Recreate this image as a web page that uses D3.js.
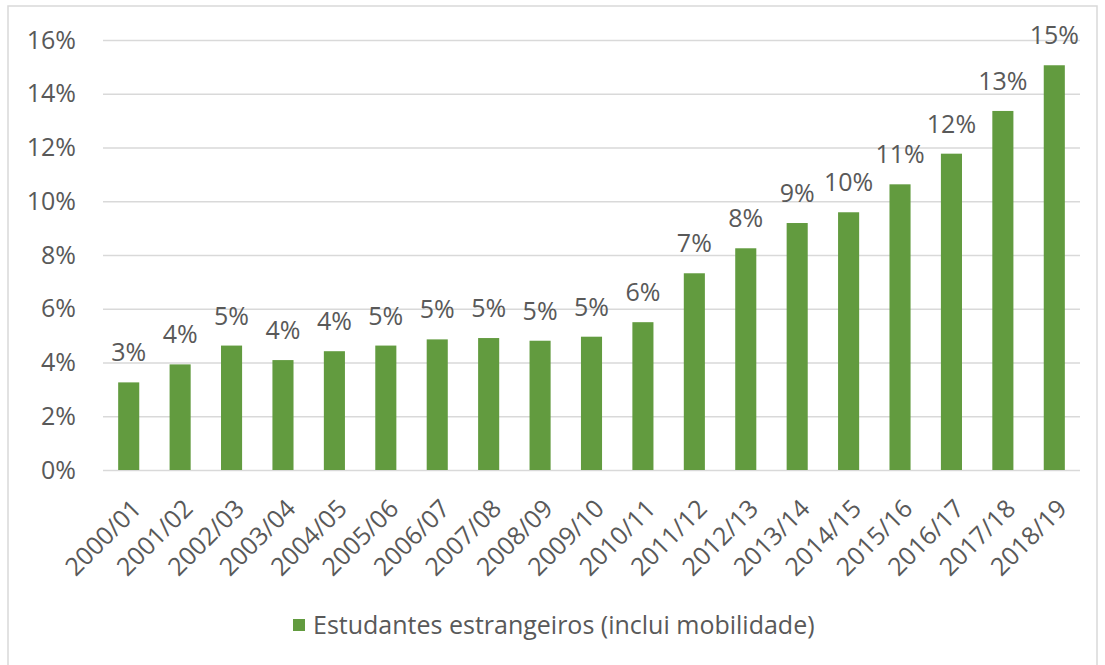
<!DOCTYPE html>
<html lang="pt">
<head>
<meta charset="UTF-8">
<title>Estudantes estrangeiros</title>
<script src="https://d3js.org/d3.v7.min.js"></script>
<style>
  body { margin: 0; background: #fff; font-family: "Open Sans", Arial, sans-serif; }
  svg text { fill: #595959; }
</style>
</head>
<body>
<svg width="1105" height="665"></svg>
<script>
const years = ["2000/01","2001/02","2002/03","2003/04","2004/05","2005/06","2006/07","2007/08","2008/09","2009/10",
               "2010/11","2011/12","2012/13","2013/14","2014/15","2015/16","2016/17","2017/18","2018/19"];
const shares = [3.26, 3.93, 4.63, 4.09, 4.42, 4.63, 4.86, 4.91, 4.81, 4.96,
                5.5, 7.32, 8.25, 9.19, 9.59, 10.63, 11.77, 13.36, 15.06];
const yTicks = [0, 2, 4, 6, 8, 10, 12, 14, 16];
const seriesName = "Estudantes estrangeiros (inclui mobilidade)";

const svg = d3.select("svg");
const green = "#629b3f";
const grid = "#d9d9d9";
const fs = 25;

// chart border
svg.append("rect").attr("x", 8).attr("y", 6).attr("width", 1089).attr("height", 670)
  .attr("fill", "none").attr("stroke", grid).attr("stroke-width", 1.5);

const x = d3.scaleBand().domain(years).range([103, 1080]).paddingInner(0.59).paddingOuter(0.295);
const y = d3.scaleLinear().domain([0, 16]).range([470, 40]);

// gridlines + y labels
const yAxis = svg.append("g").attr("transform", "translate(103,0)")
  .call(d3.axisLeft(y).tickValues(yTicks).tickSize(-977).tickPadding(27).tickFormat(d => d + "%"));
yAxis.select(".domain").remove();
yAxis.selectAll(".tick line").attr("stroke", grid).attr("stroke-width", 1.5);
yAxis.selectAll(".tick text").attr("font-size", fs).attr("font-family", "Open Sans").attr("fill", "#595959");

// bars
svg.selectAll(".bar").data(shares).join("rect")
  .attr("class", "bar")
  .attr("x", (d, i) => x(years[i]))
  .attr("width", x.bandwidth())
  .attr("y", d => y(d))
  .attr("height", d => y(0) - y(d))
  .attr("fill", green);

// data labels
svg.selectAll(".lbl").data(shares).join("text")
  .attr("class", "lbl")
  .attr("x", (d, i) => x(years[i]) + x.bandwidth() / 2)
  .attr("y", d => y(d) - 21)
  .attr("text-anchor", "middle")
  .attr("font-size", fs)
  .text(d => Math.round(d) + "%");

// x labels rotated
svg.selectAll(".xl").data(years).join("text")
  .attr("class", "xl")
  .attr("transform", d => `translate(${x(d) + x.bandwidth() / 2 + 8},${504}) rotate(-45)`)
  .attr("text-anchor", "end")
  .attr("dy", "0.35em")
  .attr("font-size", fs)
  .text(d => d);

// legend
svg.append("rect").attr("x", 293).attr("y", 619).attr("width", 12).attr("height", 12).attr("fill", green);
svg.append("text").attr("x", 313).attr("y", 625).attr("dy", "0.35em")
  .attr("font-size", fs).text(seriesName);
</script>
</body>
</html>
